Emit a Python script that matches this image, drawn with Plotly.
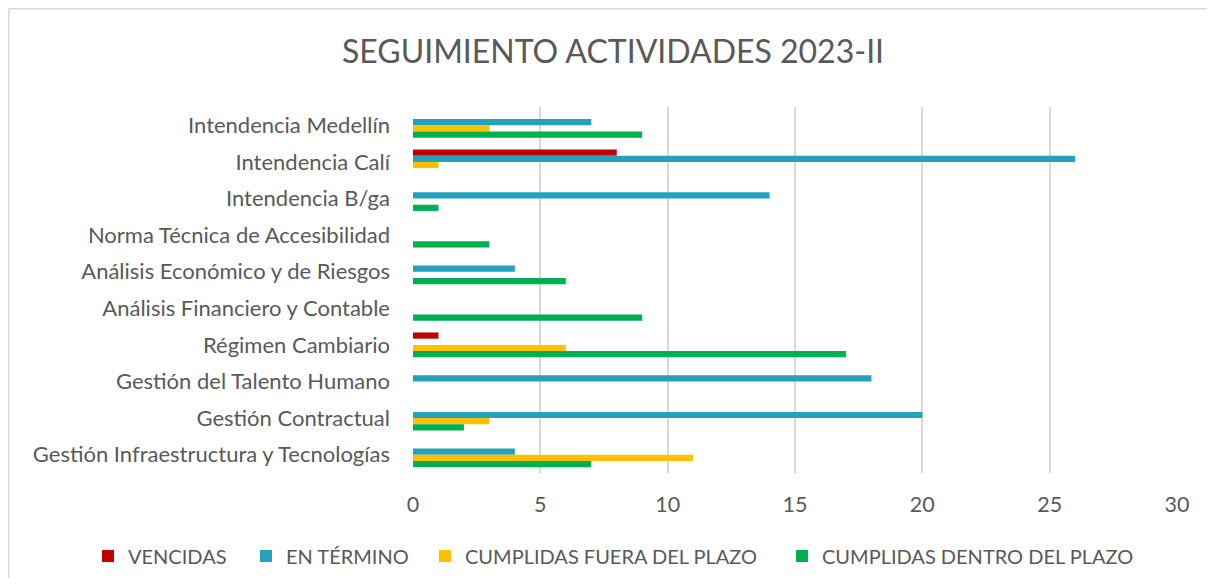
import plotly.graph_objects as go

categories = [
    "Intendencia Medellín",
    "Intendencia Calí",
    "Intendencia B/ga",
    "Norma Técnica de Accesibilidad",
    "Análisis Económico y de Riesgos",
    "Análisis Financiero y Contable",
    "Régimen Cambiario",
    "Gestión del Talento Humano",
    "Gestión Contractual",
    "Gestión Infraestructura y Tecnologías",
]
vencidas = [0, 8, 0, 0, 0, 0, 1, 0, 0, 0]
en_termino = [7, 26, 14, 0, 4, 0, 0, 18, 20, 4]
fuera_plazo = [3, 1, 0, 0, 0, 0, 6, 0, 3, 11]
dentro_plazo = [9, 0, 1, 3, 6, 9, 17, 0, 2, 7]

series_names = ["VENCIDAS", "EN TÉRMINO", "CUMPLIDAS FUERA DEL PLAZO", "CUMPLIDAS DENTRO DEL PLAZO"]
series_values = [vencidas, en_termino, fuera_plazo, dentro_plazo]
series_colors = ["#C00000", "#23A1BD", "#FFC000", "#00B050"]

FONT = "Lato"
GRAY = "#595959"

OFF = 8  # page offset of the figure (body margin)
W, H = 1215 - 2 * OFF, 586 - 2 * OFF
# plot area in page pixels
PX0, PX1, PY0, PY1 = 413, 1177, 107, 473
L, T = PX0 - OFF, PY0 - OFF
R, B = W - (PX1 - OFF), H - (PY1 - OFF)
pw, ph = PX1 - PX0, PY1 - PY0

# legend square start positions (page px)
legend_x = [104, 262, 441, 798]
legend_ids = ["legend", "legend2", "legend3", "legend4"]

fig = go.Figure()
for name, vals, color, lid in zip(series_names, series_values, series_colors, legend_ids):
    fig.add_trace(go.Bar(
        y=categories, x=vals, name=name, orientation="h",
        marker=dict(color=color, line=dict(width=0)),
        legend=lid,
    ))

layout_legends = {}
for lx, lid in zip(legend_x, legend_ids):
    layout_legends[lid] = dict(
        orientation="h", xref="container", yref="container",
        x=(lx - OFF - 16) / W, xanchor="left",
        y=1 - (556 - OFF) / H, yanchor="middle",
        font=dict(size=20, color=GRAY, family=FONT),
        bgcolor="rgba(0,0,0,0)",
        itemclick=False, itemdoubleclick=False,
    )

fig.update_layout(
    width=W, height=H,
    margin=dict(l=L, r=R, t=T, b=B),
    paper_bgcolor="white", plot_bgcolor="white",
    barmode="group", bargap=0.32, bargroupgap=0,
    font=dict(family=FONT, color=GRAY, size=20),
    title=dict(
        text="SEGUIMIENTO ACTIVIDADES 2023-II",
        font=dict(family=FONT, size=32, color=GRAY),
        x=(613 - OFF) / W, xanchor="center", xref="container",
        y=1 - (52 - OFF) / H, yanchor="middle", yref="container",
    ),
    xaxis=dict(
        range=[0, 30], dtick=5, tick0=0,
        showgrid=True, gridcolor="#D9D9D9", gridwidth=1.5,
        zeroline=False, showline=False, ticks="",
        ticklabelstandoff=16,
        tickfont=dict(size=21.5, color=GRAY, family=FONT),
        fixedrange=True,
    ),
    yaxis=dict(
        autorange="reversed", showgrid=False, zeroline=False, showline=False,
        ticks="", ticklabelstandoff=22,
        tickfont=dict(size=22, color=GRAY, family=FONT),
        fixedrange=True,
    ),
    showlegend=True,
    **layout_legends,
)

# outer chart border: only top and left edges are visible in the picture
bx0 = (8.75 - PX0) / pw
bx1 = (1300 - PX0) / pw
by_top = (PY1 - 8.75) / ph
by_bot = (PY1 - 800) / ph
for x0, y0, x1, y1 in [(bx0, by_top, bx1, by_top), (bx0, by_bot, bx0, by_top)]:
    fig.add_shape(
        type="line", xref="paper", yref="paper",
        x0=x0, y0=y0, x1=x1, y1=y1,
        line=dict(color="#D9D9D9", width=1.5), layer="below",
    )

fig.write_html("out.html")
